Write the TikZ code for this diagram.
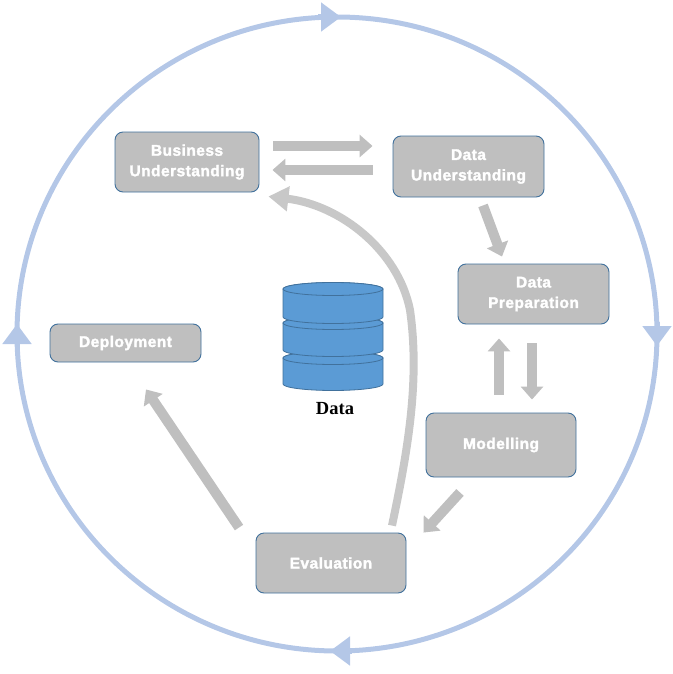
\documentclass[tikz,border=0pt]{standalone}
\usepackage{fontspec}
\setmainfont{Liberation Serif}
\newfontfamily\boxfont[LetterSpace=3,BoldFeatures={FakeBold=2}]{Liberation Sans}
\usetikzlibrary{arrows.meta,calc}
\definecolor{ringblue}{HTML}{B4C7E7}
\definecolor{boxgray}{HTML}{BFBFBF}
\definecolor{boxedge}{HTML}{41719C}
\definecolor{arrowgray}{HTML}{BFBFBF}
\definecolor{curvegray}{HTML}{C8C8C8}
\definecolor{dbblue}{HTML}{5B9BD5}
\begin{document}
\begin{tikzpicture}[x=1pt,y=-1pt,
  stage/.style={draw=boxedge, line width=0.9pt, fill=boxgray, rounded corners=8pt,
    inner sep=0pt, align=center, text=white,
    font=\boxfont\bfseries\fontsize{15.5}{20.5}\selectfont},
  blockarrow/.style={draw=arrowgray, line width=10pt, -{Triangle[width=22pt,length=13pt]}},
  curvearrow/.style={draw=curvegray, line width=8pt, -{Triangle[width=24pt,length=20pt]}},
  ring/.style={draw=ringblue, line width=5pt},
  ringtip/.style={draw=ringblue, line width=5pt, -{Triangle[width=28pt,length=20pt]}},
  dbpart/.style={draw=boxedge, line width=0.8pt, fill=dbblue}
]
\useasboundingbox (0,0) rectangle (672,674);

% outer cycle
\draw[ring] (337,334) ellipse [x radius=320, y radius=317];
\draw[ringtip] (318,17) -- (341,17);
\draw[ringtip] (657,322) -- (657,346);
\draw[ringtip] (352,651) -- (330,651);
\draw[ringtip] (17,348) -- (17,324);

% stages
\node[stage, minimum width=144pt, minimum height=60pt] (bu) at (187,162) {Business\\Understanding};
\node[stage, minimum width=151pt, minimum height=61pt] (du) at (468.5,166.5) {Data\\Understanding};
\node[stage, minimum width=151pt, minimum height=60pt] (dp) at (533.5,294) {Data\\Preparation};
\node[stage, minimum width=151pt, minimum height=38pt] (dep) at (125.5,343) {Deployment};
\node[stage, minimum width=150pt, minimum height=64pt] (mod) at (501,445) {Modelling};
\node[stage, minimum width=150pt, minimum height=60pt] (ev) at (331,563) {Evaluation};

% database
\path[dbpart] (283,358) -- (283,384) arc[start angle=180, end angle=0, x radius=50, y radius=6.5]
  -- (383,358) arc[start angle=0, end angle=-180, x radius=50, y radius=6.5] -- cycle;
\path[dbpart] (333,358) ellipse [x radius=50, y radius=6.5];
\path[dbpart] (283,323) -- (283,350) arc[start angle=180, end angle=0, x radius=50, y radius=6.5]
  -- (383,323) arc[start angle=0, end angle=-180, x radius=50, y radius=6.5] -- cycle;
\path[dbpart] (333,323) ellipse [x radius=50, y radius=6.5];
\path[dbpart] (283,289) -- (283,317) arc[start angle=180, end angle=0, x radius=50, y radius=6.5]
  -- (383,289) arc[start angle=0, end angle=-180, x radius=50, y radius=6.5] -- cycle;
\path[dbpart] (333,289) ellipse [x radius=50, y radius=6.5];
\node[font=\bfseries\fontsize{18.5}{20}\selectfont] (datalabel) at (335,409) {Data};

% connectors
\draw[blockarrow] ($(bu.east)+(14,-16)$) -- ($(du.west)+(-20,-20.5)$);
\draw[blockarrow] ($(du.west)+(-20,3.5)$) -- ($(bu.east)+(13,8)$);
\draw[blockarrow] ($(du.south)+(14.5,8)$) -- ($(dp.north)+(-31.5,-7)$);
\draw[blockarrow] ($(dp.south)+(-1.5,19)$) -- ($(mod.north)+(31,-13)$);
\draw[blockarrow] ($(mod.north)+(-2,-18)$) -- ($(dp.south)+(-34.5,14)$);
\draw[blockarrow] ($(mod.south)+(-41,15)$) -- ($(ev.north east)+(17,0)$);
\draw[blockarrow] ($(ev.north)+(-92,-5)$) -- ($(dep.south)+(20.5,27)$);
\draw[curvearrow] ($(ev.north)+(61,-7)$) .. controls (408,450) and (420,380) .. (410,310)
  .. controls (398,250) and (340,205) .. ($(bu.south east)+(9,4)$);
\end{tikzpicture}
\end{document}
